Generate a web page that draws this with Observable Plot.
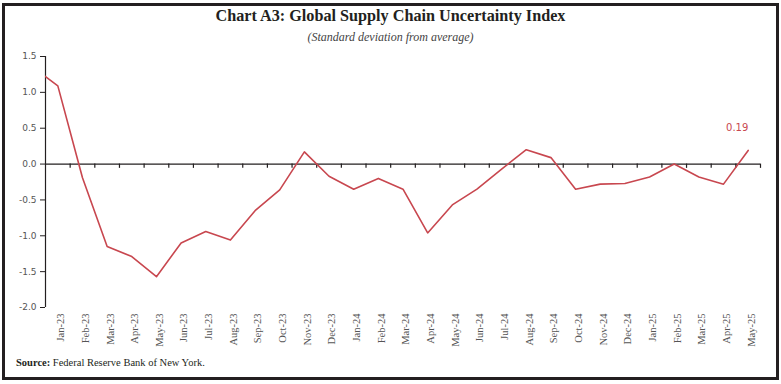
<!DOCTYPE html>
<html>
<head>
<meta charset="utf-8">
<script src="https://cdn.jsdelivr.net/npm/d3@7"></script>
<script src="https://cdn.jsdelivr.net/npm/@observablehq/plot@0.6"></script>
<style>
  html, body { margin: 0; padding: 0; background: #fff; }
  #page { position: relative; width: 781px; height: 384px; overflow: hidden; background: #fff; }
  #frame { position: absolute; left: 2px; top: 3px; width: 777px; height: 377px; border: 3px solid #231f20; box-sizing: border-box; }
  #title { position: absolute; left: 0; width: 781px; top: 7px; text-align: center; font-family: "Liberation Serif", "DejaVu Serif", serif; font-weight: bold; font-size: 16.2px; color: #231f20; }
  #subtitle { position: absolute; left: 0; width: 781px; top: 30px; text-align: center; font-family: "Liberation Serif", "DejaVu Serif", serif; font-style: italic; font-size: 12px; color: #444; }
  #chart { position: absolute; left: 0; top: 48px; }
  #footer { position: absolute; left: 16px; top: 357px; font-family: "Liberation Serif", "DejaVu Serif", serif; font-size: 10.5px; color: #231f20; }
</style>
</head>
<body>
<div id="page">
  <div id="frame"></div>
  <div id="title">Chart A3: Global Supply Chain Uncertainty Index</div>
  <div id="subtitle">(Standard deviation from average)</div>
  <div id="chart"></div>
  <div id="footer"><b>Source:</b> Federal Reserve Bank of New York.</div>
</div>
<script>
// Months (Dec-22 is only partly visible at the left edge, unlabelled)
const months = ["Dec-22","Jan-23","Feb-23","Mar-23","Apr-23","May-23","Jun-23","Jul-23","Aug-23","Sep-23","Oct-23","Nov-23","Dec-23",
  "Jan-24","Feb-24","Mar-24","Apr-24","May-24","Jun-24","Jul-24","Aug-24","Sep-24","Oct-24","Nov-24","Dec-24",
  "Jan-25","Feb-25","Mar-25","Apr-25","May-25"];
const gscpi = [1.35, 1.09, -0.19, -1.15, -1.29, -1.57, -1.10, -0.94, -1.06, -0.65, -0.36, 0.17, -0.17,
  -0.35, -0.20, -0.35, -0.96, -0.57, -0.35, -0.07, 0.20, 0.09, -0.35, -0.28, -0.27,
  -0.18, 0.00, -0.18, -0.28, 0.19];
const yTicks = [-2.0, -1.5, -1.0, -0.5, 0.0, 0.5, 1.0, 1.5];
const lastLabel = "0.19";

const data = months.map((m, i) => ({i, month: m, value: gscpi[i]}));
const labelled = data.slice(1);
const bounds = labelled.map(d => d.i + 0.5);
const lineColor = "#c8474f";

const chart = Plot.plot({
  width: 781,
  height: 300,
  marginLeft: 45,
  marginRight: 21,
  marginTop: 8,
  marginBottom: 41,
  x: {type: "linear", domain: [0.5, months.length - 0.5]},
  y: {domain: [-2, 1.5]},
  marks: [
    Plot.axisY(yTicks, {tickSize: 5, tickPadding: 4, tickFormat: d => d.toFixed(1), label: null,
      fontSize: 9, fontFamily: "DejaVu Sans, sans-serif", fill: "#555", stroke: "#231f20"}),
    Plot.ruleX([0.5], {stroke: "#231f20", strokeWidth: 1.2}),
    Plot.axisX(labelled.map(d => d.i), {anchor: "bottom", tickSize: 0, tickPadding: 6, tickRotate: -90, label: null,
      tickFormat: i => months[i], fontSize: 10.5, fontFamily: "Liberation Serif, DejaVu Serif, serif", fill: "#555", dx: 3}),
    Plot.ruleY([0], {stroke: "#231f20", strokeWidth: 1.2}),
    Plot.ruleX(bounds, {x: d => d, y1: 0, y2: -0.06, stroke: "#231f20", strokeWidth: 1.2}),
    Plot.line(data, {x: "i", y: "value", stroke: lineColor, strokeWidth: 1.6, clip: "frame"}),
    Plot.text(data.slice(-1), {x: "i", y: "value", text: () => lastLabel, dy: -23, dx: -11,
      fill: lineColor, fontSize: 10, fontFamily: "DejaVu Sans, sans-serif"})
  ]
});
document.getElementById("chart").append(chart);
</script>
</body>
</html>
